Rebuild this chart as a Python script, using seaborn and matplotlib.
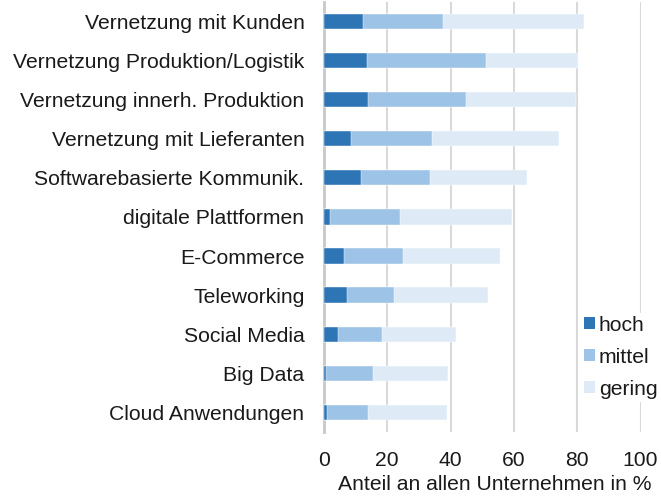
import matplotlib
matplotlib.use("Agg")
import matplotlib.pyplot as plt
import seaborn as sns
import pandas as pd
import numpy as np

categories = [
    "Vernetzung mit Kunden",
    "Vernetzung Produktion/Logistik",
    "Vernetzung innerh. Produktion",
    "Vernetzung mit Lieferanten",
    "Softwarebasierte Kommunik.",
    "digitale Plattformen",
    "E-Commerce",
    "Teleworking",
    "Social Media",
    "Big Data",
    "Cloud Anwendungen",
]
hoch = [12.2, 13.5, 13.9, 8.5, 11.7, 2.0, 6.3, 7.3, 4.5, 0.6, 0.9]
mittel = [25.5, 37.8, 31.0, 25.6, 21.8, 22.0, 18.8, 14.8, 13.8, 14.9, 12.9]
gering = [44.4, 28.8, 34.7, 40.0, 30.5, 35.5, 30.4, 29.6, 23.3, 23.7, 25.1]
series_labels = ["hoch", "mittel", "gering"]
series_colors = ["#2E75B6", "#9DC3E6", "#DEEBF7"]
x_ticks = [0, 20, 40, 60, 80, 100]
x_label = "Anteil an allen Unternehmen in %"

sns.set_theme(style="white")
plt.rcParams["font.family"] = ["Liberation Sans", "DejaVu Sans"]
FS = 15.2

df = pd.DataFrame({"Kategorie": categories, "hoch": hoch,
                   "mittel": mittel, "gering": gering})
df["c_hoch"] = df["hoch"]
df["c_mittel"] = df["hoch"] + df["mittel"]
df["c_gering"] = df["c_mittel"] + df["gering"]

fig = plt.figure(figsize=(6.61, 4.97), dpi=100)
ax = fig.add_axes([0.490, 0.131, 0.479, 0.865])

# stacked bars: draw cumulative totals from the outermost segment inward
for col, color in zip(["c_gering", "c_mittel", "c_hoch"], series_colors[::-1]):
    sns.barplot(data=df, x=col, y="Kategorie", order=categories, orient="h",
                color=color, width=0.39, edgecolor="white", linewidth=0.3,
                saturation=1, ax=ax, zorder=3)

ax.set_xlim(0, 100)
ax.set_ylim(10.5, -0.5)
ax.set_xticks(x_ticks)
ax.set_xticklabels([str(t) for t in x_ticks])
ax.set_xlabel(x_label, fontsize=FS, color="#1a1a1a")
ax.xaxis.set_label_coords(0.539, -0.1)
ax.set_ylabel("")
ax.tick_params(axis="both", labelsize=FS, colors="#1a1a1a", length=0)
ax.tick_params(axis="x", pad=14)
ax.tick_params(axis="y", pad=14)

ax.grid(axis="x", color="#D9D9D9", linewidth=1.5, zorder=0)
ax.set_axisbelow(True)
for side in ["top", "right", "bottom"]:
    ax.spines[side].set_visible(False)
ax.spines["left"].set_color("#C8C8C8")
ax.spines["left"].set_linewidth(2)
ax.spines["left"].set_zorder(2)

handles = [plt.Rectangle((0, 0), 1, 1, facecolor=c, edgecolor="none")
           for c in series_colors]
leg = ax.legend(handles, series_labels, loc="upper left",
                bbox_to_anchor=(0.879, 0.371), bbox_transform=fig.transFigure,
                frameon=True, facecolor="white", edgecolor="none", framealpha=1,
                fontsize=FS, handlelength=0.52, handleheight=0.5,
                handletextpad=0.18, labelspacing=0.61, borderpad=0.15,
                borderaxespad=0)
for t in leg.get_texts():
    t.set_color("#1a1a1a")

fig.savefig("out.png", dpi=100)
